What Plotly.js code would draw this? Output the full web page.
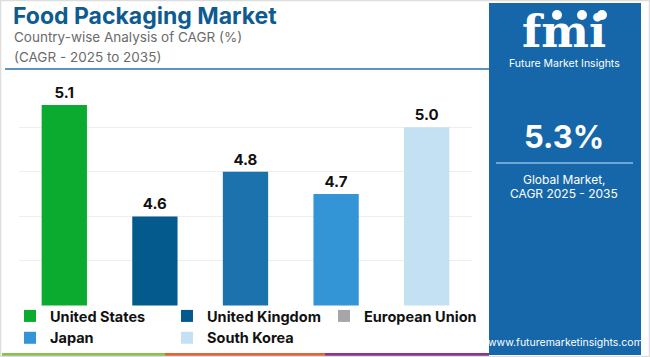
<!DOCTYPE html>
<html>
<head>
<meta charset="utf-8">
<script src="https://cdn.plot.ly/plotly-3.0.1.min.js"></script>
<style>html,body{margin:0;padding:0;background:#fff;}#chart{width:650px;height:357px;}</style>
</head>
<body>
<div id="chart"></div>
<script>
// ---- data ----
const countries = ["United States", "United Kingdom", "European Union", "Japan", "South Korea"];
const cagr = [5.1, 4.6, 4.8, 4.7, 5.0];
const barColors = ["#0aab2f", "#045a8d", "#1c72ad", "#3394d6", "#c3e1f3"];
const legendColors = ["#0aab2f", "#045a8d", "#a6a6a6", "#3394d6", "#c3e1f3"];
const globalCagr = "5.3%";

const W = 650, H = 357;
const ML = 0, MR = 160;           // right margin keeps the legend to three entries per row
const GW = W - ML - MR;
const px = x => (x - ML) / GW;
const py = y => 1 - y / H;
const FONT = "Inter, 'Open Sans', sans-serif";

const traces = [{
  type: "bar",
  x: countries,
  y: cagr,
  marker: {color: barColors},
  text: cagr.map(v => v.toFixed(1)),
  textposition: "outside",
  constraintext: "none",
  cliponaxis: false,
  textfont: {family: FONT, size: 15, color: "#111", weight: 700},
  showlegend: false,
  hoverinfo: "skip"
}];
countries.forEach((c, i) => {
  traces.push({
    type: "bar", x: [countries[0]], y: [null], name: c,
    marker: {color: legendColors[i]}, showlegend: true, hoverinfo: "skip"
  });
});

const shapes = [
  // right panel
  {type: "rect", xref: "paper", yref: "paper", x0: px(489), x1: px(641), y0: py(355), y1: py(3),
   fillcolor: "#1667a9", line: {width: 0}, layer: "below"},
  // title underline
  {type: "line", xref: "paper", yref: "paper", x0: px(5), x1: px(489), y0: py(69), y1: py(69),
   line: {color: "#2a70aa", width: 1.5}},
  // panel divider
  {type: "line", xref: "paper", yref: "paper", x0: px(496), x1: px(633), y0: py(163), y1: py(163),
   line: {color: "#8fbbe0", width: 1.5}},
  // bottom strip
  {type: "rect", xref: "paper", yref: "paper", x0: px(2), x1: px(165), y0: 0, y1: py(353),
   fillcolor: "#8dc14f", line: {width: 0}},
  {type: "rect", xref: "paper", yref: "paper", x0: px(165), x1: px(325), y0: 0, y1: py(353),
   fillcolor: "#e0663a", line: {width: 0}},
  {type: "rect", xref: "paper", yref: "paper", x0: px(325), x1: px(489), y0: 0, y1: py(353),
   fillcolor: "#8a3590", line: {width: 0}},
  // logo circles
  {type: "circle", xref: "paper", yref: "paper", x0: px(552), x1: px(562), y0: py(20), y1: py(10),
   fillcolor: "#fff", line: {width: 0}},
  {type: "circle", xref: "paper", yref: "paper", x0: px(577), x1: px(587), y0: py(20), y1: py(10),
   fillcolor: "#fff", line: {width: 0}},
  {type: "circle", xref: "paper", yref: "paper", x0: px(597), x1: px(607), y0: py(20), y1: py(10),
   fillcolor: "#fff", line: {width: 0}},
  // outer border
  {type: "rect", xref: "paper", yref: "paper", x0: px(0.5), x1: px(649.5), y0: py(356.5), y1: py(0.5),
   line: {color: "#dddddd", width: 1.5}, fillcolor: "rgba(0,0,0,0)"}
];

const ann = (x, y, text, size, color, opts = {}) => Object.assign({
  xref: "paper", yref: "paper", x: px(x), y: py(y), text: text, showarrow: false,
  font: {family: FONT, size: size, color: color}, xanchor: "center", yanchor: "middle"
}, opts);

const annotations = [
  ann(11, 16, "<b>Food Packaging Market</b>", 23, "#0e5b91", {xanchor: "left"}),
  ann(12, 37, "Country-wise Analysis of CAGR (%)", 13.5, "#6b6b6b", {xanchor: "left"}),
  ann(12, 57, "(CAGR - 2025 to 2035)", 13.5, "#6b6b6b", {xanchor: "left"}),
  ann(564, 31, "<b>fmi</b>", 45, "#ffffff", {borderpad: 0,
      font: {family: "'DejaVu Serif', serif", size: 45, color: "#fff"}}),
  ann(564, 63, "Future Market Insights", 10.5, "#ffffff", {borderpad: 0}),
  ann(564, 136, "<b>" + globalCagr + "</b>", 31, "#ffffff"),
  ann(564, 179, "Global Market,", 12, "#ffffff"),
  ann(564, 194, "CAGR 2025 - 2035", 12, "#ffffff"),
  ann(565, 342, "www.futuremarketinsights.com", 10.5, "#ffffff")
];

const layout = {
  width: W, height: H,
  margin: {l: ML, r: MR, t: 0, b: 0},
  paper_bgcolor: "#ffffff", plot_bgcolor: "rgba(0,0,0,0)",
  barmode: "overlay",
  bargap: 0.5,
  xaxis: {domain: [px(19), px(472)], showticklabels: false, showgrid: false, zeroline: false, showline: false, ticks: ""},
  yaxis: {domain: [py(305.5), py(82.7)], range: [4.2, 5.2], dtick: 0.2, showticklabels: false,
          gridcolor: "#eeeeee", gridwidth: 1, zeroline: false, showline: false, ticks: ""},
  showlegend: true,
  legend: {orientation: "h", x: px(10), xanchor: "left", y: py(300), yanchor: "top",
           entrywidth: 112, entrywidthmode: "pixels", traceorder: "normal",
           font: {family: FONT, size: 14.5, color: "#111", weight: 700},
           bgcolor: "rgba(0,0,0,0)", tracegroupgap: 0},
  shapes: shapes,
  annotations: annotations
};

Plotly.newPlot("chart", traces, layout, {staticPlot: true, displayModeBar: false});
</script>
</body>
</html>
